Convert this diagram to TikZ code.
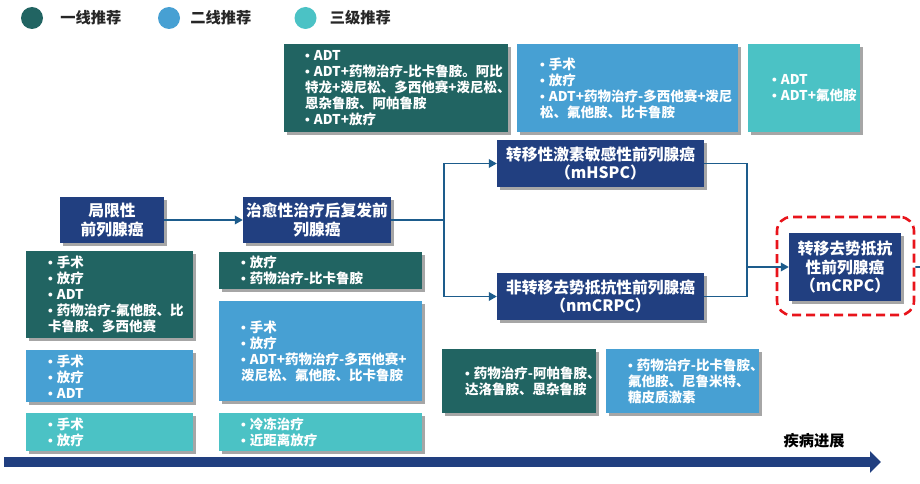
\documentclass[tikz,border=0pt]{standalone}
\usepackage{fontspec}
\setmainfont{Noto Sans CJK SC}
\newfontfamily\latinfont{Liberation Sans}
\newcommand{\bt}{{\latinfont •}\kern4pt\relax}
\exhyphenpenalty=10000
\hyphenpenalty=10000
\usetikzlibrary{positioning,arrows.meta,shadows}
\definecolor{dteal}{RGB}{33,100,98}
\definecolor{mblue}{RGB}{71,160,211}
\definecolor{lteal}{RGB}{75,194,197}
\definecolor{navy}{RGB}{33,63,128}
\definecolor{lineblue}{RGB}{29,92,140}
\definecolor{dashred}{RGB}{232,20,27}
\begin{document}
\begin{tikzpicture}[x=1pt,y=-1pt,
    shade/.style={drop shadow={shadow xshift=2.5pt, shadow yshift=-2.5pt, fill=black, opacity=0.35}},
    stage/.style={fill=navy, text=white, align=center, inner sep=0pt, shade,
        font=\bfseries\fontsize{15.75pt}{18.5pt}\selectfont},
    tbox/.style={anchor=north west, text=white, align=left, inner ysep=0pt, shade,
        font=\bfseries\fontsize{13.5pt}{16pt}\selectfont},
    dot/.style={circle, minimum size=22pt, inner sep=0pt},
    lg/.style={inner sep=0pt, text=black!85, font=\bfseries\fontsize{15.25pt}{18pt}\selectfont},
    conn/.style={draw=lineblue, line width=1.8pt},
    tip/.style={-{Triangle[length=8pt,width=8.5pt]}}]
\useasboundingbox (0,0) rectangle (920,484);

\node[dot, fill=dteal] (D1) at (32,18) {};
\node[dot, fill=mblue] (D2) at (169,18) {};
\node[dot, fill=lteal] (D3) at (305.5,18) {};
\node[lg, right=17pt of D1] (T1) {一线推荐};
\node[lg, right=10pt of D2] (T2) {二线推荐};
\node[lg, right=13pt of D3] (T3) {三级推荐};

\node[tbox, fill=dteal, minimum width=224pt, minimum height=88pt, inner xsep=21pt, text width=182pt] (A) at (284,44)
    {\bt ADT\\\bt ADT+药物治疗-比卡鲁胺。阿比\\特龙+泼尼松、多西他赛+泼尼松、\\恩杂鲁胺、阿帕鲁胺\\\bt ADT+放疗};
\node[tbox, fill=mblue, minimum width=221pt, minimum height=88pt, inner xsep=23pt, text width=175pt] (B) at (517,44)
    {\bt 手术\\\bt 放疗\\\bt ADT+药物治疗-多西他赛+泼尼\\松、氟他胺、比卡鲁胺};
\node[tbox, fill=lteal, minimum width=112pt, minimum height=88pt, inner xsep=24pt, text width=64pt] (C) at (748,44)
    {\bt ADT\\\bt ADT+氟他胺};

\node[stage, minimum width=104pt, minimum height=46pt] (L) at (112,220) {局限性\\前列腺癌};
\node[stage, minimum width=148pt, minimum height=46pt] (R) at (317,220) {治愈性治疗后复发前\\列腺癌};
\node[stage, minimum width=207pt, minimum height=47pt] (MH) at (600.5,163.5) {转移性激素敏感性前列腺癌\\（mHSPC）};
\node[stage, minimum width=207pt, minimum height=47pt] (NM) at (600.5,296.5) {非转移去势抵抗性前列腺癌\\（nmCRPC）};
\node[draw=dashred, line width=2.6pt, dash pattern=on 9pt off 5pt, rounded corners=14pt,
    minimum width=137pt, minimum height=98pt] (RB) at (845.5,266) {};
\node[stage, minimum width=112pt, minimum height=68pt] (CR) at (845,267) {转移去势抵抗\\性前列腺癌\\（mCRPC）};

\node[tbox, fill=dteal, minimum width=167pt, minimum height=87pt, inner xsep=22pt, text width=123pt] (L1) at (26,251)
    {\bt 手术\\\bt 放疗\\\bt ADT\\\bt 药物治疗-氟他胺、比\\卡鲁胺、多西他赛};
\node[tbox, fill=mblue, minimum width=167pt, minimum height=52pt, inner xsep=22pt, text width=123pt] (L2) at (26,350)
    {\bt 手术\\\bt 放疗\\\bt ADT};
\node[tbox, fill=lteal, minimum width=167pt, minimum height=38pt, inner xsep=22pt, text width=123pt] (L3) at (26,413)
    {\bt 手术\\\bt 放疗};

\node[tbox, fill=dteal, minimum width=203pt, minimum height=37pt, inner xsep=22pt, text width=159pt] (M1) at (219,252)
    {\bt 放疗\\\bt 药物治疗-比卡鲁胺};
\node[tbox, fill=mblue, minimum width=203pt, minimum height=100pt, inner xsep=22pt, text width=159pt] (M2) at (219,301)
    {\bt 手术\\\bt 放疗\\\bt ADT+药物治疗-多西他赛+\\泼尼松、氟他胺、比卡鲁胺};
\node[tbox, fill=lteal, minimum width=203pt, minimum height=38pt, inner xsep=22pt, text width=159pt] (M3) at (219,413)
    {\bt 冷冻治疗\\\bt 近距离放疗};

\node[tbox, fill=dteal, minimum width=154pt, minimum height=64pt, inner xsep=23pt, text width=108pt] (N1) at (442,349)
    {\bt 药物治疗-阿帕鲁胺、\\达洛鲁胺、恩杂鲁胺};
\node[tbox, fill=mblue, minimum width=153pt, minimum height=64pt, inner xsep=22pt, text width=109pt] (N2) at (606,349)
    {\bt 药物治疗-比卡鲁胺、\\氟他胺、尼鲁米特、\\糖皮质激素};

\coordinate (J) at (444,220);
\coordinate (K) at (747,267);
\coordinate (E) at (920,267);
\draw[conn, tip] (L) -- (R);
\draw[conn] (R) -- (J);
\draw[conn, tip] (J) |- (MH);
\draw[conn, tip] (J) |- (NM);
\draw[conn] (MH) -| (K);
\draw[conn] (NM) -| (K);
\draw[conn, tip] (K) -- (CR);
\draw[conn] (RB) -- (E);

\coordinate (P0) at (4,462);
\coordinate (P1) at (881,462);
\draw[navy, line width=10pt, -{Triangle[length=11pt,width=21pt]}] (P0) -- (P1);
\node[lg, text=black] (PG) at (814,441) {疾病进展};
\end{tikzpicture}
\end{document}
